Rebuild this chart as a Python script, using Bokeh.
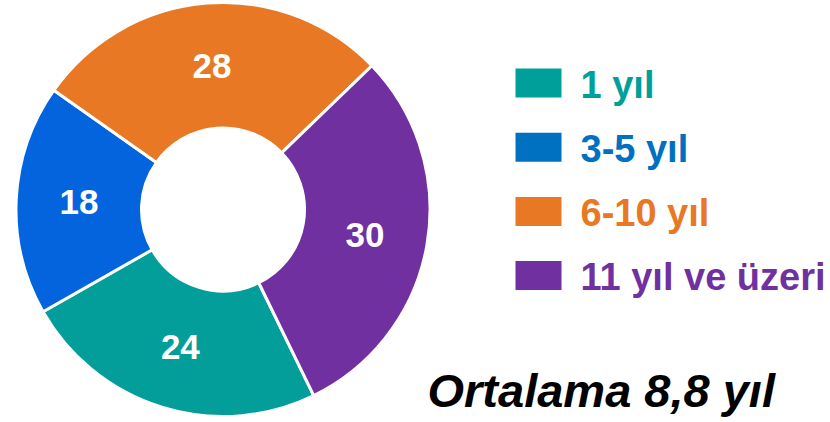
import math
from bokeh.plotting import figure
from bokeh.models import Range1d, ColumnDataSource
from bokeh.core.properties import value
from bokeh.embed import file_html
from bokeh.resources import INLINE

categories = ["1 yıl", "3-5 yıl", "6-10 yıl", "11 yıl ve üzeri"]
values = [24, 18, 28, 30]
slice_colors = ["#039E9A", "#0464DE", "#E87824", "#7130A0"]
legend_colors = ["#009F9A", "#0070C0", "#E87824", "#7130A0"]
note = "Ortalama 8,8 yıl"

W, H = 830, 422
FONT = "Liberation Sans"


def sy(y):
    return H - y


p = figure(width=W, height=H, output_backend="svg", toolbar_location=None,
           x_range=Range1d(0, W), y_range=Range1d(0, H), min_border=0)
p.axis.visible = False
p.grid.visible = False
p.outline_line_color = None
p.background_fill_color = "white"

cx, cy = 222.5, sy(209)
r_out, r_in = 207, 81.5
start0 = -64.0
total = sum(values)
starts, ends, mids = [], [], []
acc = 0
for v in values:
    s = start0 - acc / total * 360
    e = start0 - (acc + v) / total * 360
    starts.append(s)
    ends.append(e)
    mids.append(math.radians((s + e) / 2))
    acc += v

src = ColumnDataSource(dict(start=starts, end=ends, color=slice_colors))
p.annular_wedge(x=cx, y=cy, inner_radius=r_in, outer_radius=r_out,
                start_angle="start", end_angle="end", start_angle_units="deg",
                end_angle_units="deg", direction="clock", fill_color="color",
                line_color="white", line_width=3, source=src)

r_lab = (r_in + r_out) / 2
lab = ColumnDataSource(dict(
    x=[cx + r_lab * math.cos(a) for a in mids],
    y=[cy + r_lab * math.sin(a) for a in mids],
    t=[str(v) for v in values]))
p.text(x="x", y="y", text="t", source=lab, text_color="white",
       text_font=value(FONT), text_font_style="bold", text_font_size="35px",
       text_align="center", text_baseline="middle")

# legend
n = len(categories)
ly = [sy(82.5 + i * 64.2) for i in range(n)]
p.rect(x=[538] * n, y=ly, width=46, height=29,
       fill_color=legend_colors, line_color=None)
leg = ColumnDataSource(dict(x=[580] * n, y=[v - 1.5 for v in ly], t=categories, c=legend_colors))
p.text(x="x", y="y", text="t", text_color="c", source=leg,
       text_font=value(FONT), text_font_style="bold", text_font_size="38px",
       text_align="left", text_baseline="middle")

p.text(x=[427], y=[sy(390)], text=[note], text_color="black",
       text_font=value(FONT), text_font_style="bold italic", text_font_size="47px",
       text_align="left", text_baseline="middle")

open("out.html", "w").write(file_html(p, INLINE))
